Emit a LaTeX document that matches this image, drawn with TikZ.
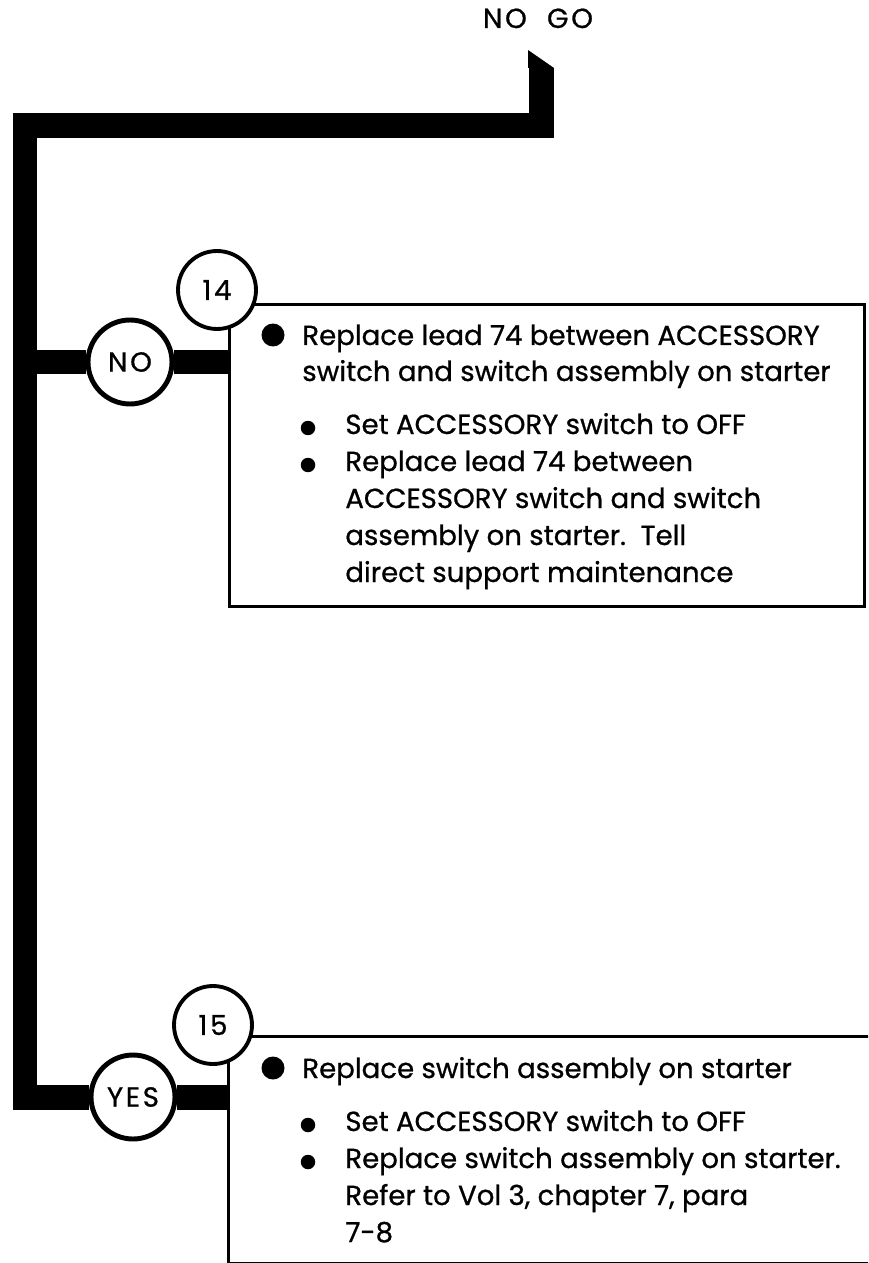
\documentclass[tikz,border=0pt]{standalone}
\usepackage{fontspec}
\setmainfont{Poppins}[FakeBold=0.8]
\newfontfamily\labelfont{Poppins}[FakeBold=0.8, LetterSpace=10]
\usetikzlibrary{positioning}

\tikzset{
  flow/.style={line width=0.5cm, line join=miter},
  choice/.style={draw, circle, line width=2.8pt, fill=white, minimum size=1.68cm, inner sep=0pt, font=\fontsize{15.7}{21}\labelfont},
  stepno/.style={draw, circle, line width=2.2pt, fill=white, minimum size=1.56cm, inner sep=0pt, font=\fontsize{15.7}{21}\labelfont},
  card/.style={draw, rectangle, line width=1.6pt, inner sep=0pt},
  bigdot/.style={circle, fill, inner sep=0pt, minimum size=0.46cm},
  smalldot/.style={circle, fill, inner sep=0pt, minimum size=0.29cm},
  txt/.style={anchor=base west, inner sep=0pt}
}

\begin{document}
\begin{tikzpicture}[x=0.02cm, y=-0.02cm, font=\fontsize{15.7}{21}\selectfont]
  \useasboundingbox (0,0) rectangle (868,1263);
  \clip (0,0) rectangle (868,1263);

  % boxes
  \node[card, anchor=north west, minimum width=12.7cm, minimum height=6.04cm] (box14) at (228,303) {};
  \node[card, anchor=north west, minimum width=14cm, minimum height=4.54cm] (box15) at (227,1035) {};

  % circles
  \node[stepno] (c14) at (217,290) {14};
  \node[choice] (no) at (130,362) {NO};
  \node[stepno] (c15) at (213,1025) {15};
  \node[choice] (yes) at (133,1097) {YES};

  \node[anchor=base, inner sep=0pt, font=\fontsize{15.7}{21}\labelfont] (nogo) at (538,28) {NO\ \ GO};

  % flow lines
  \coordinate (tip) at (541,68);
  \coordinate (bend) at (25,126);
  \fill (528,50) -- (554,68) -- (528,68) -- cycle;
  \draw[flow] (tip) |- (bend) |- (yes);
  \draw[flow] (bend |- no) -- (no);
  \draw[flow] (no) -- (no -| box14.west);
  \draw[flow] (yes) -- (yes -| box15.west);

  % text of step 14
  \node[bigdot] (d14) at (273,335) {};
  \node[txt] (t14a) at (302,345) {Replace lead 74 between ACCESSORY};
  \node[txt] (t14b) at (302,381) {switch and switch assembly on starter};
  \node[smalldot] (d14a) at (308,428) {};
  \node[txt] (t14c) at (345,434) {Set ACCESSORY switch to OFF};
  \node[smalldot] (d14b) at (308,465) {};
  \node[txt] (t14d) at (345,471) {Replace lead 74 between};
  \node[txt] (t14e) at (345,508) {ACCESSORY switch and switch};
  \node[txt] (t14f) at (345,545) {assembly on starter.\ \ Tell};
  \node[txt] (t14g) at (345,582) {direct support maintenance};

  % text of step 15
  \node[bigdot] (d15) at (273,1068) {};
  \node[txt] (t15a) at (302,1078) {Replace switch assembly on starter};
  \node[smalldot] (d15a) at (308,1125) {};
  \node[txt] (t15b) at (345,1131) {Set ACCESSORY switch to OFF};
  \node[smalldot] (d15b) at (308,1162) {};
  \node[txt] (t15c) at (345,1168) {Replace switch assembly on starter.};
  \node[txt] (t15d) at (345,1205) {Refer to Vol 3, chapter 7, para};
  \node[txt] (t15e) at (345,1242) {7-8};
\end{tikzpicture}
\end{document}
